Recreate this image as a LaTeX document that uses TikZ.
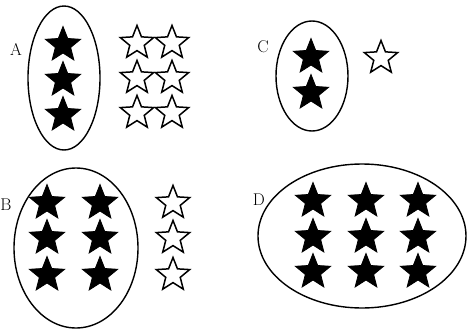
\documentclass[tikz,border=0pt]{standalone}
\usetikzlibrary{shapes.geometric}
\begin{document}
\begin{tikzpicture}[x=1pt,y=-1pt,
  starshape/.style={star,star points=5,star point ratio=2.3,inner sep=0pt,minimum size=37pt},
  fullstar/.style={starshape,fill=black,draw=black,line width=0.8pt},
  openstar/.style={starshape,draw=black,fill=white,line width=1.5pt,minimum size=35pt},
  setring/.style={draw=black,line width=1.4pt},
  lbl/.style={font=\fontsize{17}{17}\selectfont,inner sep=0pt}]
\useasboundingbox (0,0) rectangle (467,330);
% A
\draw[setring] (64,78) ellipse (36 and 72);
\node[lbl] (la) at (16,49) {A};
\foreach \y [count=\i] in {45,80,115} \node[fullstar] (a\i) at (63,\y) {};
\foreach \y [count=\i] in {43,78,113} {
  \node[openstar] (ao1\i) at (137,\y) {};
  \node[openstar] (ao2\i) at (172,\y) {};
}
% C
\draw[setring] (312,76) ellipse (36 and 55);
\node[lbl] (lc) at (263,47) {C};
\foreach \y [count=\i] in {57,93} \node[fullstar] (c\i) at (311,\y) {};
\node[openstar] (co) at (381,58) {};
% B
\draw[setring] (76,248) ellipse (62 and 80);
\node[lbl] (lb) at (6,205) {B};
\foreach \y [count=\i] in {203,238,275} {
  \node[fullstar] (b1\i) at (47,\y) {};
  \node[fullstar] (b2\i) at (100,\y) {};
  \node[openstar] (bo\i) at (173,\y) {};
}
% D
\draw[setring] (362,236) ellipse (104 and 72);
\node[lbl] (ld) at (259,200) {D};
\foreach \y [count=\i] in {201,237,272} {
  \node[fullstar] (d1\i) at (313,\y) {};
  \node[fullstar] (d2\i) at (366,\y) {};
  \node[fullstar] (d3\i) at (418,\y) {};
}
\end{tikzpicture}
\end{document}
